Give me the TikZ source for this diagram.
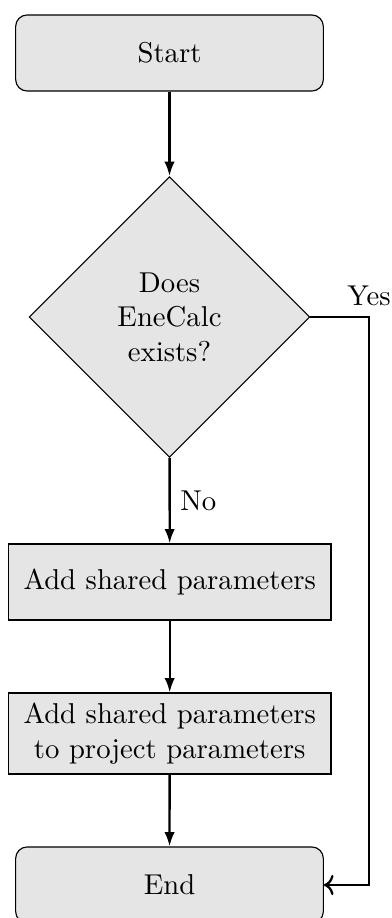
\documentclass[tikz,border=0pt]{standalone}
\usetikzlibrary{shapes.geometric,arrows.meta}
\begin{document}
\begin{tikzpicture}[x=0.3484pt,y=-0.3484pt,
  termbox/.style={draw, thin, fill=gray!20, rounded corners=4pt, minimum width=107.2pt, minimum height=26.5pt, align=center},
  procbox/.style={draw, thin, fill=gray!20, minimum width=112.4pt, align=center},
  decbox/.style={draw, thin, fill=gray!20, diamond, aspect=1, minimum width=97.8pt, minimum height=97.8pt, inner sep=0pt, align=center},
  flow/.style={thick, -{Latex[length=5pt,width=3.6pt]}},
  back/.style={thick, ->}]
\useasboundingbox (0,0) rectangle (392,918);
\node[termbox] (start) at (169.5,53) {Start};
\node[decbox] (dec) at (169.5,317) {Does\\EneCalc\\exists?};
\node[procbox, minimum height=26.5pt] (add1) at (169.7,582) {Add shared parameters};
\node[procbox, minimum height=28.2pt] (add2) at (169.7,733.5) {Add shared parameters\\to project parameters};
\node[termbox] (end) at (169.5,885) {End};
\coordinate (yc) at (369,317);
\draw[flow] (start) -- (dec);
\draw[flow] (dec) -- node[right] {No} (add1);
\draw[flow] (add1) -- (add2);
\draw[flow] (add2) -- (end);
\draw[back] (dec.east) -- (yc) node[above] {Yes} |- (end.east);
\end{tikzpicture}
\end{document}
